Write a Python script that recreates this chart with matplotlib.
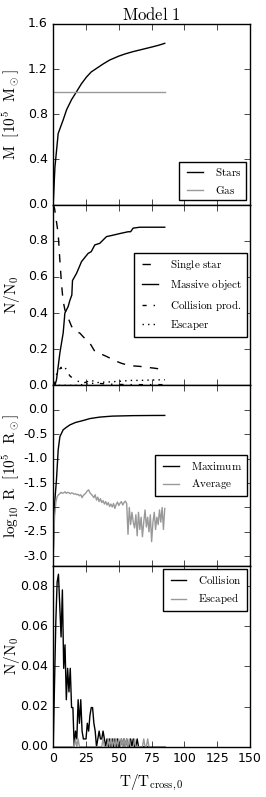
import matplotlib.pyplot as plt
import numpy as np

plt.style.use('classic')
plt.rcParams['mathtext.fontset'] = 'cm'
plt.rcParams['axes.unicode_minus'] = False

GRAY = '0.6'

# panel 1 : mass
t_stars = [0, 1.3, 3.8, 7.6, 10.2, 14, 17.8, 21.5, 25.4, 29, 33, 38, 43, 50, 55, 61, 68, 75, 80, 85]
m_stars = [0, 0.33, 0.63, 0.75, 0.84, 0.93, 1.0, 1.07, 1.13, 1.175, 1.206, 1.245, 1.28, 1.315, 1.335, 1.355, 1.375, 1.395, 1.41, 1.428]
t_gas = [0, 85]
m_gas = [1.0, 1.0]

# panel 2 : number fractions
t_single = [0, 1, 2, 3, 3.8, 5, 6.3, 7.5, 8.9, 11, 14, 17, 20.3, 24, 27.9, 31.7, 36, 40.6, 44, 48.2, 52, 55.8, 60, 66, 71, 76, 80, 85]
n_single = [1.0, 0.98, 0.93, 0.88, 0.84, 0.7, 0.564, 0.47, 0.418, 0.38, 0.326, 0.30, 0.289, 0.26, 0.234, 0.188, 0.175, 0.16, 0.148, 0.133, 0.122, 0.114, 0.108, 0.105, 0.10, 0.096, 0.092, 0.096]
t_massive = [0, 1.3, 2.5, 5.1, 7.6, 8.9, 11.4, 12.7, 14.2, 14.7, 17.8, 21.6, 26.6, 29, 31.7, 35.5, 40.6, 45, 50.8, 57.1, 59, 60.9, 66, 85]
n_massive = [0, 0, 0.03, 0.18, 0.29, 0.40, 0.436, 0.47, 0.50, 0.58, 0.62, 0.685, 0.73, 0.74, 0.777, 0.786, 0.823, 0.83, 0.84, 0.85, 0.85, 0.87, 0.875, 0.875]
t_coll = [0, 1, 2, 3, 4, 5, 6, 7, 8, 9, 10, 11, 12, 13, 14, 15, 16, 18, 20, 22, 24, 26, 28, 30, 33, 36, 40, 45, 50, 60, 70, 85]
n_coll = [0, 0.01, 0.05, 0.07, 0.065, 0.09, 0.10, 0.08, 0.075, 0.09, 0.095, 0.07, 0.06, 0.05, 0.045, 0.04, 0.035, 0.025, 0.02, 0.03, 0.015, 0.02, 0.04, 0.025, 0.015, 0.01, 0.008, 0.006, 0.005, 0.004, 0.004, 0.004]
t_esc = [0, 17.8, 22, 26, 30, 35.5, 40, 45, 50, 55, 61, 66, 72, 78, 85]
n_esc = [0, 0, 0.004, 0.008, 0.011, 0.017, 0.018, 0.02, 0.022, 0.025, 0.028, 0.027, 0.029, 0.030, 0.031]

# panel 3 : radius
t_max = [0, 0.6, 1.3, 2.5, 3.8, 5.1, 7.6, 10, 12.7, 17, 22.8, 28, 35.5, 45, 61, 75, 85]
r_max = [-3.0, -2.3, -1.84, -1.43, -0.82, -0.55, -0.41, -0.36, -0.31, -0.26, -0.22, -0.18, -0.15, -0.13, -0.12, -0.117, -0.116]
t_avg = np.arange(0, 86)
r_avg = [-3.0, -2.2, -1.9, -1.78, -1.74, -1.72, -1.69, -1.71, -1.70, -1.68,
         -1.71, -1.69, -1.70, -1.72, -1.70, -1.71, -1.73, -1.72, -1.74, -1.73,
         -1.76, -1.74, -1.80, -1.75, -1.73, -1.70, -1.66, -1.64, -1.70, -1.73,
         -1.76, -1.80, -1.74, -1.85, -1.79, -1.88, -1.82, -1.90, -1.86, -1.93,
         -1.88, -1.95, -1.90, -1.98, -1.93, -1.99, -1.92, -2.02, -1.94, -1.89,
         -1.96, -1.91, -1.88, -1.95, -1.90, -1.87, -1.92, -2.55, -2.0, -2.35,
         -2.1, -2.3, -2.42, -2.15, -2.58, -2.1, -2.45, -2.2, -2.6, -2.3,
         -2.05, -2.4, -2.2, -2.5, -2.15, -2.7, -2.3, -2.1, -2.45, -2.2,
         -2.35, -2.05, -2.3, -2.0, -2.45, -2.02]

# panel 4 : collisions / escapers per step (units of 1/256)
t_step = np.arange(0, 86)
k = 1 / 256.
coll = np.array([0, 8, 16, 21, 22, 18, 14, 20, 10, 13, 6, 10, 7, 10, 5, 5, 0, 2, 1, 6,
                 3, 6, 2, 1, 1, 1, 3, 2, 4, 5, 5, 3, 2, 0, 1, 2, 1, 1, 2, 1,
                 0, 1, 0, 1, 0, 1, 0, 1, 0, 1, 0, 0, 1, 0, 1, 0, 1, 0, 0, 1,
                 0, 1, 0, 0, 1, 0, 0, 0, 0, 0, 0, 0, 0, 0, 0, 0, 0, 0, 0, 0,
                 0, 0, 0, 0, 0, 0]) * k
esc = np.array([0, 0, 0, 0, 0, 0, 0, 0, 0, 0, 0, 0, 0, 0, 0, 0, 0, 1, 0, 1,
                0, 0, 0, 0, 0, 0, 0, 0, 0, 0, 0, 0, 0, 0, 0, 0, 0, 0, 1, 0,
                0, 0, 1, 0, 1, 0, 1, 0, 1, 0, 1, 0, 1, 0, 1, 0, 1, 0, 1, 0,
                0, 0, 1, 0, 0, 0, 0, 0, 0, 1, 0, 0, 1, 0, 0, 0, 0, 0, 0, 0,
                0, 0, 0, 0, 0, 0]) * k

fig, axes = plt.subplots(4, 1, sharex=True, figsize=(2.66, 7.97), dpi=100)
fig.subplots_adjust(left=0.2, right=0.94, top=0.97, bottom=0.063, hspace=0)

ax1, ax2, ax3, ax4 = axes

ax1.plot(t_stars, m_stars, 'k-', lw=1, label=r'$\mathrm{Stars}$')
ax1.plot(t_gas, m_gas, '-', color=GRAY, lw=1, label=r'$\mathrm{Gas}$')
ax1.set_ylim(0, 1.6)
ax1.set_yticks([0.0, 0.4, 0.8, 1.2, 1.6])
ax1.set_ylabel(r'$\mathrm{M\ \ [10^5\ \ M_\odot]}$', fontsize=11)
ax1.set_title(r'$\mathrm{Model\ 1}$', fontsize=12, pad=3)
ax1.legend(loc='lower right', fontsize=8, borderaxespad=0.4)

ax2.plot(t_single, n_single, 'k--', lw=1, label=r'$\mathrm{Single\ star}$')
ax2.plot(t_massive, n_massive, 'k-', lw=1, label=r'$\mathrm{Massive\ object}$')
ax2.plot(t_coll, n_coll, 'k-.', lw=1, label=r'$\mathrm{Collision\ prod.}$')
ax2.plot(t_esc, n_esc, 'k:', lw=1, label=r'$\mathrm{Escaper}$')
ax2.set_ylim(0, 1.0)
ax2.set_yticks([0.0, 0.2, 0.4, 0.6, 0.8])
ax2.set_ylabel(r'$\mathrm{N/N_0}$', fontsize=11)
ax2.legend(loc='center right', fontsize=8, borderaxespad=0.3)

ax3.plot(t_max, r_max, 'k-', lw=1, label=r'$\mathrm{Maximum}$')
ax3.plot(t_avg, r_avg, '-', color=GRAY, lw=1, label=r'$\mathrm{Average}$')
ax3.set_ylim(-3.2, 0.5)
ax3.set_yticks([-3.0, -2.5, -2.0, -1.5, -1.0, -0.5, 0.0])
ax3.set_ylabel(r'$\mathrm{\log_{10}\ R\ \ [10^5\ \ R_\odot]}$', fontsize=11)
ax3.legend(loc='center right', fontsize=8, borderaxespad=0.3)

ax4.plot(t_step, coll, 'k-', lw=1, label=r'$\mathrm{Collision}$')
ax4.plot(t_step, esc, '-', color=GRAY, lw=1, label=r'$\mathrm{Escaped}$')
ax4.set_ylim(0, 0.09)
ax4.set_yticks([0.0, 0.02, 0.04, 0.06, 0.08])
ax4.set_ylabel(r'$\mathrm{N/N_0}$', fontsize=11)
ax4.legend(loc='upper right', fontsize=8, borderaxespad=0.3)
ax4.set_xlim(0, 150)
ax4.set_xticks([0, 25, 50, 75, 100, 125, 150])
ax4.set_xlabel(r'$\mathrm{T/T_{cross,0}}$', fontsize=11)

for ax in axes:
    ax.tick_params(labelsize=9)
    ax.yaxis.set_label_coords(-0.16, 0.5)

plt.savefig('out.png', dpi=100)
